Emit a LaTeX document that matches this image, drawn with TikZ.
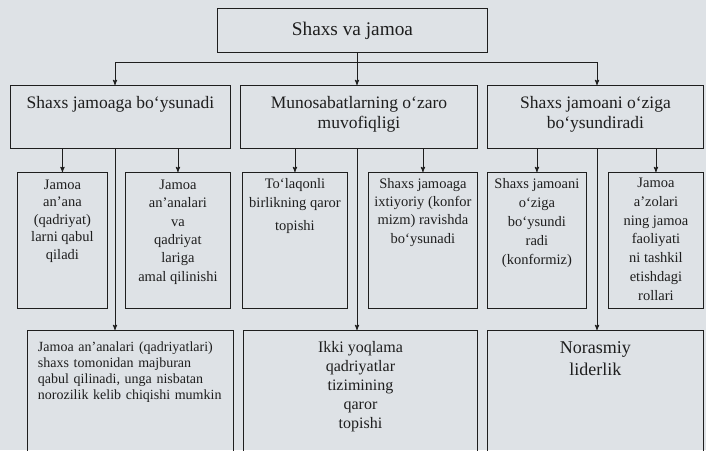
\documentclass[tikz,border=0pt]{standalone}
\usepackage{fontspec}
\setmainfont{Liberation Serif}
\usetikzlibrary{positioning,arrows}
\definecolor{paper}{RGB}{222,226,230}
\definecolor{ink}{RGB}{30,30,30}

\begin{document}
\begin{tikzpicture}[x=1pt,y=-1pt,>=stealth',line width=0.9pt,
		frame/.style={rectangle,draw=ink,anchor=north west,inner sep=0pt},
		openbox/.style={rectangle,anchor=north west,inner sep=0pt},
		txt/.style={align=center,inner sep=0pt,text=ink},
		huge/.style={font=\fontsize{19.3}{22}\selectfont},
		big/.style={font=\fontsize{17.5}{20}\selectfont},
		small/.style={font=\fontsize{14.5}{18.4}\selectfont}]
		\fill[paper] (0,0) rectangle (706,450);
		\useasboundingbox (0,0) rectangle (706,450);

		% top
		\node[frame,huge,text=ink,minimum width=270pt,minimum height=44pt] (top) at (217,8) {Shaxs va jamoa};

		% first level
		\node[frame,minimum width=220pt,minimum height=63pt] (sub) at (10,85) {};
		\node[txt,big,below=10.5pt of sub.north] (subT) {Shaxs jamoaga bo‘ysunadi};
		\node[frame,minimum width=237pt,minimum height=63pt] (rel) at (240,85) {};
		\node[txt,big,below=11pt of rel.north] (relT) {Munosabatlarning o‘zaro\\ muvofiqligi};
		\node[frame,minimum width=216pt,minimum height=63pt] (dom) at (487,85) {};
		\node[txt,big,below=11pt of dom.north] (domT) {Shaxs jamoani o‘ziga\\ bo‘ysundiradi};

		% second level
		\node[frame,minimum width=90pt,minimum height=136pt] (a) at (17,172) {};
		\node[txt,small,font=\fontsize{14.5}{17.5}\selectfont,below=7.4pt of a.north] (aT)
			{Jamoa\\ an’ana\\ (qadriyat)\\ larni qabul\\ qiladi};
		\node[frame,minimum width=105pt,minimum height=136pt] (b) at (125,172) {};
		\node[txt,small,below=7.4pt of b.north] (bT)
			{Jamoa\\ an’analari\\ va\\ qadriyat\\ lariga\\ amal qilinishi};
		\node[frame,minimum width=105pt,minimum height=136pt] (c) at (242,172) {};
		\node[txt,small,font=\fontsize{14.5}{19}\selectfont,below=5.5pt of c.north] (cT)
			{To‘laqonli\\ birlikning qaror\\[4pt] topishi};
		\node[frame,minimum width=109pt,minimum height=136pt] (d) at (368,172) {};
		\node[txt,small,below=5.5pt of d.north] (dT)
			{Shaxs jamoaga\\ ixtiyoriy (konfor\\ mizm) ravishda\\ bo‘ysunadi};
		\node[frame,minimum width=99pt,minimum height=136pt] (e) at (487,172) {};
		\node[txt,small,font=\fontsize{14.5}{19.2}\selectfont,below=5.5pt of e.north] (eT)
			{Shaxs jamoani\\ o‘ziga\\ bo‘ysundi\\ radi\\ (konformiz)};
		\node[frame,minimum width=95pt,minimum height=136pt] (f) at (608,172) {};
		\node[txt,small,font=\fontsize{14.5}{18.8}\selectfont,below=5.5pt of f.north] (fT)
			{Jamoa\\ a’zolari\\ ning jamoa\\ faoliyati\\ ni tashkil\\ etishdagi\\ rollari};

		% bottom level
		\node[openbox,minimum width=206pt,minimum height=120pt] (p) at (27,330) {};
		\node[txt,text width=185pt,align=left,font=\fontsize{14}{16}\selectfont,below=11.5pt of p.north] (pT)
			{\makebox[\linewidth][s]{Jamoa an’analari (qadriyatlari)}\\
			 \makebox[\linewidth][s]{shaxs tomonidan majburan}\\
			 \makebox[\linewidth][s]{qabul qilinadi, unga nisbatan}\\
			 \makebox[\linewidth][s]{norozilik kelib chiqishi mumkin}};
		\node[openbox,minimum width=234pt,minimum height=120pt] (q) at (243,330) {};
		\node[txt,font=\fontsize{16}{19}\selectfont,below=11pt of q.north] (qT)
			{Ikki yoqlama\\ qadriyatlar\\ tizimining\\ qaror\\ topishi};
		\node[openbox,minimum width=216pt,minimum height=120pt] (r) at (487,330) {};
		\node[txt,font=\fontsize{18}{22}\selectfont,below=11pt of r.north] (rT)
			{Norasmiy\\ liderlik};
		\foreach \n in {p,q,r}
			\draw[ink] (\n.south west) -- (\n.north west) -- (\n.north east) -- (\n.south east);

		% connectors
		\coordinate (busL) at (115,62);
		\coordinate (busM) at (357,62);
		\coordinate (busR) at (597,62);
		\draw[ink] (busL) -- (busR);
		\draw[ink,->] (busM |- top.south) -- (busM |- rel.north);
		\draw[ink,->] (busL) -- (busL |- sub.north);
		\draw[ink,->] (busR) -- (busR |- dom.north);

		\draw[ink,->] (a.north |- sub.south) -- (a.north);
		\draw[ink,->] (b.north |- sub.south) -- (b.north);
		\draw[ink,->] (c.north |- rel.south) -- (c.north);
		\draw[ink,->] (d.north |- rel.south) -- (d.north);
		\draw[ink,->] (e.north |- dom.south) -- (e.north);
		\draw[ink,->] (f.north |- dom.south) -- (f.north);

		\draw[ink,->] (busL |- sub.south) -- (busL |- p.north);
		\draw[ink,->] (busM |- rel.south) -- (busM |- q.north);
		\draw[ink,->] (busR |- dom.south) -- (busR |- r.north);
\end{tikzpicture}
\end{document}
